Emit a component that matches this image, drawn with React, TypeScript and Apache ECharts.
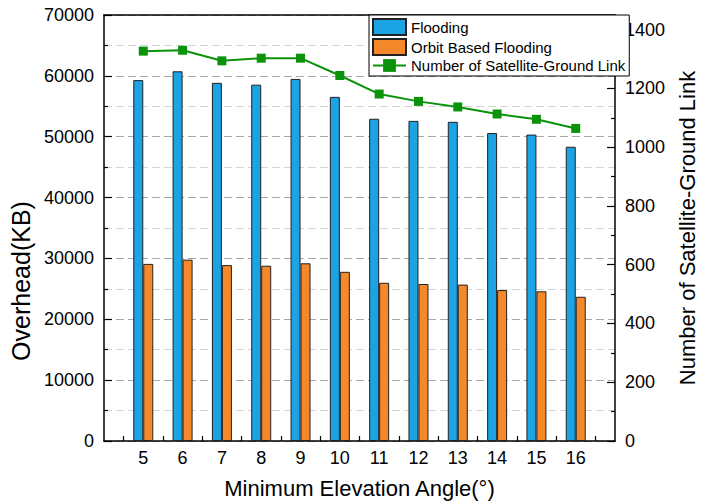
import React, { useEffect, useRef } from 'react';
import * as echarts from 'echarts';

// Minimum elevation angle (degrees)
const angles = [5, 6, 7, 8, 9, 10, 11, 12, 13, 14, 15, 16];
// Overhead in KB for each forwarding scheme
const flooding = [59300, 60750, 58850, 58550, 59500, 56550, 52950, 52600, 52450, 50600, 50350, 48350];
const orbitFlooding = [29100, 29800, 28900, 28800, 29200, 27800, 26000, 25800, 25700, 24800, 24600, 23700];
// Count of satellite-ground links (right axis)
const satGroundLinks = [1327, 1330, 1294, 1303, 1303, 1244, 1181, 1156, 1137, 1113, 1095, 1064];

const FONT = '"Liberation Sans", Arial, sans-serif';
const BLUE = '#1BA3E3';
const ORANGE = '#F6882C';
const GREEN = '#0A930A';

const plain = (v: number) => String(v);

export default function App() {
  const ref = useRef<HTMLDivElement>(null);

  useEffect(() => {
    if (!ref.current) return;
    const chart = echarts.init(ref.current, undefined, { renderer: 'svg' });
    const axisLine = { show: true, onZero: false, lineStyle: { color: '#000', width: 1.5 } };

    chart.setOption({
      animation: false,
      backgroundColor: '#fff',
      textStyle: { fontFamily: FONT, color: '#000' },
      grid: { left: 103, right: 74, top: 15, bottom: 63, show: false },
      legend: {
        orient: 'vertical',
        left: 369,
        top: 15,
        padding: [3, 4, 3, 3],
        itemWidth: 33,
        itemHeight: 16,
        itemGap: 2,
        backgroundColor: '#fff',
        borderColor: '#000',
        borderWidth: 1,
        borderRadius: 0,
        textStyle: { fontFamily: FONT, fontSize: 15, color: '#000' },
        data: [
          { name: 'Flooding', icon: 'rect' },
          { name: 'Orbit Based Flooding', icon: 'rect' },
          { name: 'Number of Satellite-Ground Link' },
        ],
      },
      xAxis: [
        {
          type: 'value',
          min: 4,
          max: 17,
          interval: 1,
          position: 'bottom',
          axisLine,
          axisTick: { show: false, inside: true },
          minorTick: { show: true, splitNumber: 2, length: 5, lineStyle: { color: '#000', width: 1.2 } },
          splitLine: { show: false },
          minorSplitLine: { show: false },
          axisLabel: {
            fontFamily: FONT,
            fontSize: 18,
            color: '#000',
            margin: 8,
            formatter: (v: number) => (angles.includes(v) ? String(v) : ''),
          },
          name: 'Minimum Elevation Angle(°)',
          nameLocation: 'middle',
          nameGap: 36,
          nameTextStyle: { fontFamily: FONT, fontSize: 22, color: '#000' },
        },
        {
          type: 'value',
          min: 4,
          max: 17,
          position: 'top',
          axisLine,
          axisTick: { show: false },
          axisLabel: { show: false },
          splitLine: { show: false },
        },
      ],
      yAxis: [
        {
          type: 'value',
          min: 0,
          max: 70000,
          interval: 10000,
          position: 'left',
          axisLine,
          axisTick: { show: true, inside: true, length: 8, lineStyle: { color: '#000', width: 1.2 } },
          minorTick: { show: true, splitNumber: 2, length: 4, lineStyle: { color: '#000', width: 1.2 } },
          splitLine: { show: true, lineStyle: { color: '#a8a8a8', width: 1, type: [8, 4] } },
          minorSplitLine: { show: true, lineStyle: { color: '#d4d4d4', width: 1, type: [8, 4] } },
          axisLabel: { fontFamily: FONT, fontSize: 18, color: '#000', margin: 10, formatter: plain },
          name: 'Overhead(KB)',
          nameLocation: 'middle',
          nameGap: 60,
          nameTextStyle: {
            fontFamily: FONT,
            fontSize: 25,
            color: '#000',
            // pushes the title below the vertical centre of the plot
            padding: [0, 106, 0, 0],
          },
        },
        {
          type: 'value',
          min: 0,
          max: 1450,
          interval: 200,
          position: 'right',
          axisLine,
          axisTick: { show: true, inside: true, length: 8, lineStyle: { color: '#000', width: 1.2 } },
          minorTick: { show: true, splitNumber: 2, length: 4, lineStyle: { color: '#000', width: 1.2 } },
          splitLine: { show: false },
          axisLabel: {
            fontFamily: FONT,
            fontSize: 18,
            color: '#000',
            margin: 10,
            showMaxLabel: false,
            formatter: plain,
          },
          name: 'Number of Satellite-Ground Link',
          nameLocation: 'middle',
          nameGap: 52,
          nameTextStyle: { fontFamily: FONT, fontSize: 22, color: '#000' },
        },
      ],
      series: [
        {
          type: 'bar',
          name: 'Flooding',
          xAxisIndex: 0,
          yAxisIndex: 0,
          barWidth: 10,
          barGap: '0%',
          data: angles.map((a, i) => [a, flooding[i]]),
          itemStyle: { color: BLUE, borderColor: '#222', borderWidth: 1 },
        },
        {
          type: 'bar',
          name: 'Orbit Based Flooding',
          xAxisIndex: 0,
          yAxisIndex: 0,
          barWidth: 10,
          barGap: '0%',
          data: angles.map((a, i) => [a, orbitFlooding[i]]),
          itemStyle: { color: ORANGE, borderColor: '#222', borderWidth: 1 },
        },
        {
          type: 'line',
          name: 'Number of Satellite-Ground Link',
          xAxisIndex: 0,
          yAxisIndex: 1,
          data: angles.map((a, i) => [a, satGroundLinks[i]]),
          symbol: 'rect',
          symbolSize: 9,
          lineStyle: { color: GREEN, width: 2 },
          itemStyle: { color: GREEN },
        },
      ],
    });

    return () => chart.dispose();
  }, []);

  return (
    <div
      ref={ref}
      style={{ position: 'fixed', left: 0, top: 0, width: 706, height: 504, background: '#fff' }}
    />
  );
}
